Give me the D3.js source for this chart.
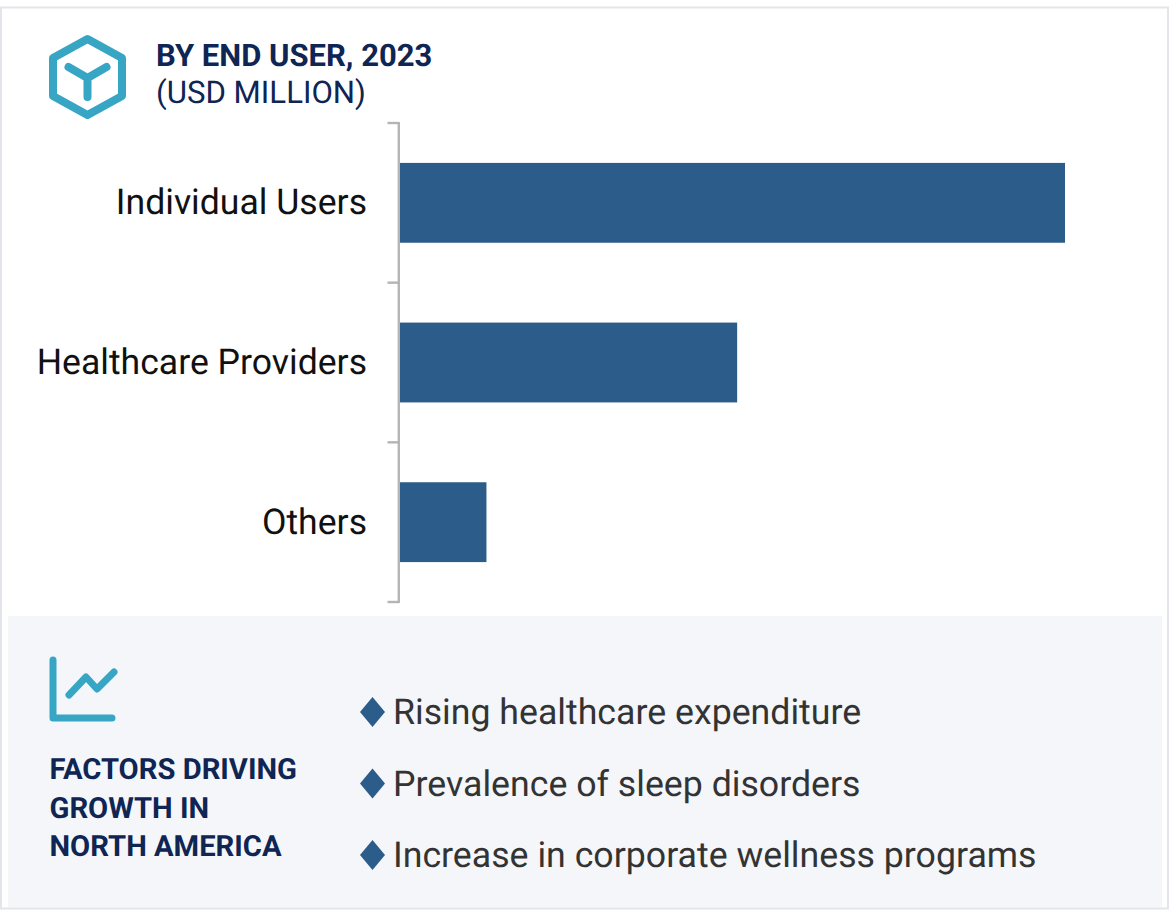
<!DOCTYPE html>
<html>

<head>
	<script src="https://d3js.org/d3.v7.min.js"></script>
	<style>
		html, body { margin: 0; padding: 0; background: #fff; }
		svg { display: block; }
		text { font-family: Roboto, sans-serif; text-rendering: geometricPrecision; }
	</style>
</head>

<body>
	<div id="chart"></div>

	<script>
		var categories = ["Individual Users", "Healthcare Providers", "Others"];
		// no value axis in the picture, so these are read off as relative bar lengths
		var values = [100, 50.7, 13];
		var factors = ["Rising healthcare expenditure", "Prevalence of sleep disorders", "Increase in corporate wellness programs"];
		var panelTitle = ["FACTORS DRIVING", "GROWTH IN", "NORTH AMERICA"];

		var width = 1170, height = 913;
		var navy = "#0f2553", teal = "#37a6c4", blue = "#2b5c8a";

		var svg = d3.select("#chart").append("svg")
			.attr("width", width)
			.attr("height", height);

		// card outline
		svg.append("rect").attr("x", 1).attr("y", 7.5).attr("width", 1167).attr("height", 901)
			.attr("fill", "#fff").attr("stroke", "#e4e5ea").attr("stroke-width", 2);

		// header icon
		var hex = svg.append("g").attr("transform", "translate(87.5,77)")
			.attr("fill", "none").attr("stroke", teal).attr("stroke-linecap", "round").attr("stroke-linejoin", "round");
		hex.append("path").attr("d", "M0,-38 L34.5,-19 L34.5,19 L0,38 L-34.5,19 L-34.5,-19 Z").attr("stroke-width", 8);
		hex.append("path").attr("d", "M-19,-10 L0,1 L19,-10 M0,1 L0,20").attr("stroke-width", 8);

		svg.append("text").attr("x", 156).attr("y", 66)
			.attr("font-size", 31).attr("font-weight", 700).attr("fill", navy).text("BY END USER, 2023");
		svg.append("text").attr("x", 156).attr("y", 103)
			.attr("font-size", 31.2).attr("font-weight", 400).attr("fill", navy).text("(USD MILLION)");

		// bars
		var x = d3.scaleLinear().domain([0, 100]).range([400, 1065]);
		var y = d3.scaleBand().domain(categories).range([123, 602]).paddingInner(0.5).paddingOuter(0.25);

		svg.selectAll("rect.bar")
			.data(categories)
			.enter()
			.append("rect")
			.attr("class", "bar")
			.attr("x", x(0))
			.attr("y", function(d) { return y(d); })
			.attr("width", function(d, i) { return x(values[i]) - x(0); })
			.attr("height", y.bandwidth())
			.attr("fill", blue);

		// category axis, with ticks on the band edges
		var axisColor = "#b5b5b5";
		var step = y.step();
		var tickYs = d3.range(categories.length + 1).map(function(i) { return 123 + i * step; });
		var axis = svg.append("g").attr("stroke", axisColor).attr("stroke-width", 2.4).attr("fill", "none");
		axis.append("line").attr("x1", 398.8).attr("x2", 398.8).attr("y1", 122).attr("y2", 603);
		axis.selectAll("line.tick")
			.data(tickYs)
			.enter()
			.append("line")
			.attr("class", "tick")
			.attr("x1", 387.5).attr("x2", 399)
			.attr("y1", function(d) { return d; })
			.attr("y2", function(d) { return d; });

		svg.selectAll("text.cat")
			.data(categories)
			.enter()
			.append("text")
			.attr("class", "cat")
			.attr("x", 367)
			.attr("y", function(d) { return y(d) + y.bandwidth() / 2 + 11.5; })
			.attr("text-anchor", "end")
			.attr("font-size", 35.6)
			.attr("fill", "#111")
			.text(function(d) { return d; });

		// bottom panel
		svg.append("rect").attr("x", 8).attr("y", 616).attr("width", 1154).attr("height", 291).attr("fill", "#f4f6fa");

		var trend = svg.append("g").attr("fill", "none").attr("stroke", teal).attr("stroke-linecap", "round").attr("stroke-linejoin", "round");
		trend.append("path").attr("d", "M53,660 L53,718 L112,718").attr("stroke-width", 7);
		trend.append("path").attr("d", "M69,695 L86,677 L97,689 L114,672").attr("stroke-width", 7);

		svg.selectAll("text.ptitle")
			.data(panelTitle)
			.enter()
			.append("text")
			.attr("class", "ptitle")
			.attr("x", 49.5)
			.attr("y", function(d, i) { return 779 + i * 38.5; })
			.attr("font-size", 29.2)
			.attr("font-weight", 700)
			.attr("fill", navy)
			.text(function(d) { return d; });

		var factorY = d3.scalePoint().domain(factors).range([712, 855]);

		svg.selectAll("path.diamond")
			.data(factors)
			.enter()
			.append("path")
			.attr("class", "diamond")
			.attr("d", "M0,-15 L12.5,0 L0,15 L-12.5,0 Z")
			.attr("transform", function(d) { return "translate(372.5," + factorY(d) + ")"; })
			.attr("fill", blue);

		svg.selectAll("text.factor")
			.data(factors)
			.enter()
			.append("text")
			.attr("class", "factor")
			.attr("x", 393)
			.attr("y", function(d) { return factorY(d) + 12; })
			.attr("font-size", 35.7)
			.attr("fill", "#333")
			.text(function(d) { return d; });
	</script>
</body>
</html>
